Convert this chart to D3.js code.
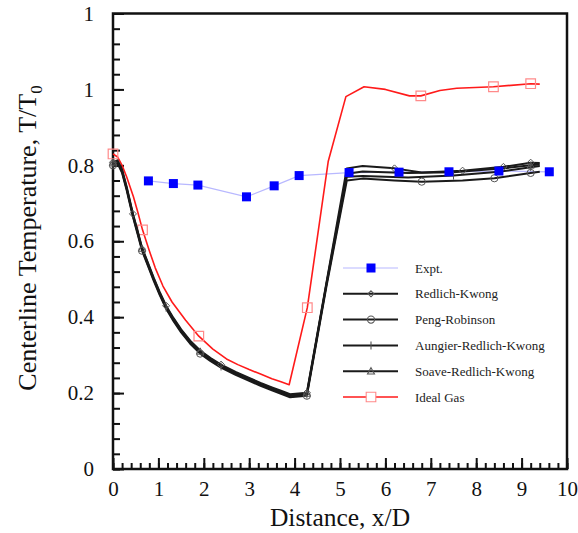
<!DOCTYPE html>
<html>
<head>
<meta charset="utf-8">
<script src="https://cdn.jsdelivr.net/npm/d3@7"></script>
<style>
  html, body { margin: 0; padding: 0; background: #fff; }
  svg { display: block; font-family: "Liberation Serif", "Times New Roman", serif; }
</style>
</head>
<body>
<svg id="chart" width="578" height="533"></svg>
<script>
// ---- data -------------------------------------------------------------
// Experimental centreline temperature
const exptX = [0.78, 1.33, 1.87, 2.94, 3.55, 4.10, 5.20, 6.30, 7.40, 8.50, 9.61];
const exptY = [0.759, 0.752, 0.748, 0.717, 0.746, 0.773, 0.781, 0.782, 0.783, 0.785, 0.783];

// Real-gas models (x/D and T/T0); *Marks list the x/D of the symbol positions
const rkX  = [0, 0.1, 0.2, 0.3, 0.44, 0.54, 0.64, 0.77, 0.9, 1.03, 1.17, 1.33, 1.5, 1.7, 1.92, 2.15, 2.38, 2.7, 3.0, 3.25, 3.5, 3.7, 3.9, 4.27, 4.7, 5.15, 5.5, 6.2, 6.8, 7.7, 8.6, 9.2, 9.4];
const rkY  = [0.808, 0.813, 0.789, 0.744, 0.672, 0.628, 0.583, 0.543, 0.503, 0.466, 0.430, 0.398, 0.368, 0.338, 0.312, 0.292, 0.275, 0.256, 0.240, 0.227, 0.215, 0.206, 0.197, 0.201, 0.49, 0.792, 0.798, 0.792, 0.781, 0.786, 0.796, 0.807, 0.806];
const rkMarks = [0, 0.44, 1.17, 2.38, 4.27, 6.2, 7.7, 8.6, 9.2];

const prX  = [0, 0.1, 0.2, 0.3, 0.44, 0.54, 0.64, 0.77, 0.9, 1.03, 1.17, 1.33, 1.5, 1.7, 1.92, 2.15, 2.38, 2.7, 3.0, 3.25, 3.5, 3.7, 3.9, 4.27, 4.7, 5.15, 5.5, 6.2, 6.8, 7.7, 8.4, 9.2, 9.4];
const prY  = [0.800, 0.805, 0.780, 0.735, 0.664, 0.620, 0.575, 0.535, 0.495, 0.458, 0.422, 0.390, 0.360, 0.330, 0.304, 0.284, 0.267, 0.248, 0.232, 0.219, 0.207, 0.198, 0.189, 0.193, 0.48, 0.760, 0.765, 0.760, 0.757, 0.760, 0.766, 0.780, 0.783];
const prMarks = [0, 0.64, 1.92, 4.27, 6.8, 8.4, 9.2];

const arkX = [0, 0.1, 0.2, 0.3, 0.44, 0.54, 0.64, 0.77, 0.9, 1.03, 1.17, 1.33, 1.5, 1.7, 1.92, 2.15, 2.38, 2.7, 3.0, 3.25, 3.5, 3.7, 3.9, 4.27, 4.7, 5.15, 5.5, 6.5, 7.5, 8.5, 9.2, 9.4];
const arkY = [0.803, 0.808, 0.783, 0.738, 0.667, 0.623, 0.578, 0.538, 0.498, 0.461, 0.425, 0.393, 0.363, 0.333, 0.307, 0.287, 0.270, 0.251, 0.235, 0.222, 0.210, 0.201, 0.192, 0.196, 0.485, 0.770, 0.772, 0.768, 0.773, 0.783, 0.795, 0.798];
const arkMarks = [0, 1.17, 2.38, 4.27, 7.5, 9.2];

const srkX = [0, 0.1, 0.2, 0.3, 0.44, 0.54, 0.64, 0.77, 0.9, 1.03, 1.17, 1.33, 1.5, 1.7, 1.92, 2.15, 2.38, 2.7, 3.0, 3.25, 3.5, 3.7, 3.9, 4.27, 4.7, 5.15, 5.5, 6.5, 7.5, 8.6, 9.2, 9.4];
const srkY = [0.806, 0.811, 0.786, 0.741, 0.670, 0.626, 0.581, 0.541, 0.501, 0.464, 0.428, 0.396, 0.366, 0.336, 0.310, 0.290, 0.273, 0.254, 0.238, 0.225, 0.213, 0.204, 0.195, 0.199, 0.487, 0.778, 0.784, 0.780, 0.782, 0.792, 0.800, 0.802];
const srkMarks = [0, 0.64, 1.92, 4.27, 9.2];

// Ideal-gas model
const idealX = [0, 0.1, 0.2, 0.3, 0.45, 0.55, 0.65, 0.8, 0.93, 1.1, 1.3, 1.6, 1.89, 2.2, 2.5, 2.75, 3.0, 3.25, 3.5, 3.7, 3.88, 4.28, 4.74, 5.13, 5.53, 6.0, 6.53, 6.78, 7.2, 7.57, 8.38, 9.2, 9.4];
const idealY = [0.83, 0.822, 0.80, 0.77, 0.717, 0.675, 0.63, 0.575, 0.53, 0.482, 0.44, 0.392, 0.350, 0.316, 0.29, 0.275, 0.262, 0.25, 0.238, 0.23, 0.222, 0.425, 0.81, 0.981, 1.007, 1.0, 0.983, 0.983, 0.997, 1.003, 1.007, 1.015, 1.014];
const idealMarks = [0, 0.65, 1.89, 4.28, 6.78, 8.38, 9.2];

// Axis tick labels
const xTickValues = [0, 1, 2, 3, 4, 5, 6, 7, 8, 9, 10];
const yTickValues = [0, 0.2, 0.4, 0.6, 0.8, 1.0, 1.2];
const yTickLabels = ["0", "0.2", "0.4", "0.6", "0.8", "1", "1"];

const seriesNames = ["Expt.", "Redlich-Kwong", "Peng-Robinson", "Aungier-Redlich-Kwong", "Soave-Redlich-Kwong", "Ideal Gas"];

// ---- layout -----------------------------------------------------------
const svg = d3.select("#chart");
const plotL = 113, plotR = 567, plotT = 13.5, plotB = 469;

const x = d3.scaleLinear().domain([0, 10]).range([plotL, plotR]);
const y = d3.scaleLinear().domain([0, 1.2]).range([plotB, plotT]);

// minor + major ticks, drawn inward
const yMinor = d3.range(0, 1.2001, 0.04);
const xMinor = d3.range(0, 10.001, 0.2);

const axisColor = "#111";

svg.append("g").attr("transform", `translate(${plotL},0)`)
  .call(d3.axisRight(y).tickValues(yMinor).tickSize(7).tickFormat(""));
svg.append("g").attr("transform", `translate(${plotL},0)`)
  .call(d3.axisRight(y).tickValues(yTickValues).tickSize(11).tickFormat(""));
svg.append("g").attr("transform", `translate(0,${plotB})`)
  .call(d3.axisTop(x).tickValues(xMinor).tickSize(6).tickFormat(""));
svg.append("g").attr("transform", `translate(0,${plotB})`)
  .call(d3.axisTop(x).tickValues(xTickValues).tickSize(11).tickFormat(""));

svg.selectAll(".domain").remove();
svg.selectAll(".tick line").attr("stroke", axisColor).attr("stroke-width", 2);

// tick labels
const yl = svg.append("g").attr("transform", `translate(${plotL},0)`);
yl.call(d3.axisLeft(y).tickValues(yTickValues).tickSize(0).tickPadding(19)
  .tickFormat((d, i) => yTickLabels[i]));
yl.select(".domain").remove();
yl.selectAll("text").attr("font-size", 21).attr("fill", "#111")
  .attr("font-family", "Liberation Serif");

const xl = svg.append("g").attr("transform", `translate(0,${plotB})`);
xl.call(d3.axisBottom(x).tickValues(xTickValues).tickSize(0).tickPadding(12));
xl.select(".domain").remove();
xl.selectAll("text").attr("font-size", 21).attr("fill", "#111")
  .attr("font-family", "Liberation Serif");

// frame
svg.append("rect")
  .attr("x", plotL).attr("y", plotT)
  .attr("width", plotR - plotL).attr("height", plotB - plotT)
  .attr("fill", "none").attr("stroke", axisColor).attr("stroke-width", 2.5);

// axis titles
svg.append("text")
  .attr("x", (plotL + plotR) / 2).attr("y", 526)
  .attr("text-anchor", "middle").attr("font-size", 25.5).attr("fill", "#111")
  .text("Distance, x/D");

const yt = svg.append("text")
  .attr("transform", "translate(36,238) rotate(-90)")
  .attr("text-anchor", "middle").attr("font-size", 26).attr("fill", "#111");
yt.append("tspan").text("Centerline Temperature, T/T");
yt.append("tspan").attr("font-size", 17).attr("dy", 6).text("0");

// ---- marks ------------------------------------------------------------
const line = d3.line().x(d => x(d[0])).y(d => y(d[1])).curve(d3.curveLinear);
const zip = (a, b) => a.map((v, i) => [v, b[i]]);
const markIdx = (xs, marks) => marks.map(m => xs.indexOf(m)).filter(i => i >= 0);

const plot = svg.append("g");

function markerPath(shape, s) {
  switch (shape) {
    case "diamond": return `M0,${-s}L${s},0L0,${s}L${-s},0Z`;
    case "circle": return d3.symbol(d3.symbolCircle, Math.PI * s * s)();
    case "plus": return `M0,${-s}V${s}`;
    case "triangle": return `M0,${-s}L${s},${s * 0.8}L${-s},${s * 0.8}Z`;
    case "square": return `M${-s},${-s}H${s}V${s}H${-s}Z`;
  }
}

const blackSeries = [
  { xs: prX,  ys: prY,  marks: prMarks,  shape: "circle",   size: 3.6 },
  { xs: arkX, ys: arkY, marks: arkMarks, shape: "plus",     size: 4 },
  { xs: srkX, ys: srkY, marks: srkMarks, shape: "triangle", size: 3.5 },
  { xs: rkX,  ys: rkY,  marks: rkMarks,  shape: "diamond",  size: 3.5 }
];

// experimental line (behind)
plot.append("path").datum(zip(exptX, exptY))
  .attr("d", line).attr("fill", "none")
  .attr("stroke", "#b8b8ff").attr("stroke-width", 1.2);

// ideal gas
plot.append("path").datum(zip(idealX, idealY))
  .attr("d", line).attr("fill", "none")
  .attr("stroke", "#ff1a1a").attr("stroke-width", 1.6)
  .attr("stroke-linejoin", "round");
plot.append("g").selectAll("path").data(markIdx(idealX, idealMarks)).join("path")
  .attr("transform", i => `translate(${x(idealX[i])},${y(idealY[i])})`)
  .attr("d", markerPath("square", 4.8))
  .attr("fill", "none").attr("stroke", "#ff8a8a").attr("stroke-width", 1.2);

// real-gas models
blackSeries.forEach(s => {
  plot.append("path").datum(zip(s.xs, s.ys))
    .attr("d", line).attr("fill", "none")
    .attr("stroke", "#1a1a1a").attr("stroke-width", 2)
    .attr("stroke-linejoin", "round");
});
blackSeries.forEach(s => {
  plot.append("g").selectAll("path").data(markIdx(s.xs, s.marks)).join("path")
    .attr("transform", i => `translate(${x(s.xs[i])},${y(s.ys[i])})`)
    .attr("d", markerPath(s.shape, s.size))
    .attr("fill", "none").attr("stroke", "#555").attr("stroke-width", 1);
});

// experimental markers
plot.append("g").selectAll("rect").data(exptX).join("rect")
  .attr("x", d => x(d) - 4.5)
  .attr("y", (d, i) => y(exptY[i]) - 4.5)
  .attr("width", 9).attr("height", 9)
  .attr("fill", "#0000ff");

// ---- legend -----------------------------------------------------------
const legend = svg.append("g");
const lx0 = 343, lx1 = 398, lxm = 371, ltx = 415, ly0 = 268, ldy = 25.8;
const legendStyle = [
  { stroke: "#b8b8ff", w: 1.2, shape: "expt" },
  { stroke: "#1a1a1a", w: 2, shape: "diamond", size: 3 },
  { stroke: "#1a1a1a", w: 2, shape: "circle", size: 3.6 },
  { stroke: "#1a1a1a", w: 2, shape: "plus", size: 4 },
  { stroke: "#1a1a1a", w: 2, shape: "triangle", size: 3.5 },
  { stroke: "#ff1a1a", w: 1.6, shape: "square", size: 4.8 }
];
seriesNames.forEach((name, i) => {
  const st = legendStyle[i];
  const g = legend.append("g").attr("transform", `translate(0,${ly0 + i * ldy})`);
  g.append("line").attr("x1", lx0).attr("x2", lx1).attr("y1", 0).attr("y2", 0)
    .attr("stroke", st.stroke).attr("stroke-width", st.w);
  if (st.shape === "expt") {
    g.append("rect").attr("x", lxm - 4.5).attr("y", -4.5).attr("width", 9).attr("height", 9)
      .attr("fill", "#0000ff");
  } else {
    g.append("path").attr("transform", `translate(${lxm},0)`)
      .attr("d", markerPath(st.shape, st.size))
      .attr("fill", st.shape === "square" ? "#fff" : "none")
      .attr("stroke", st.shape === "square" ? "#ff8a8a" : "#555").attr("stroke-width", 1.1);
  }
  g.append("text").attr("x", ltx).attr("y", 4.5).attr("font-size", 13)
    .attr("fill", "#222").text(name);
});
</script>
</body>
</html>
